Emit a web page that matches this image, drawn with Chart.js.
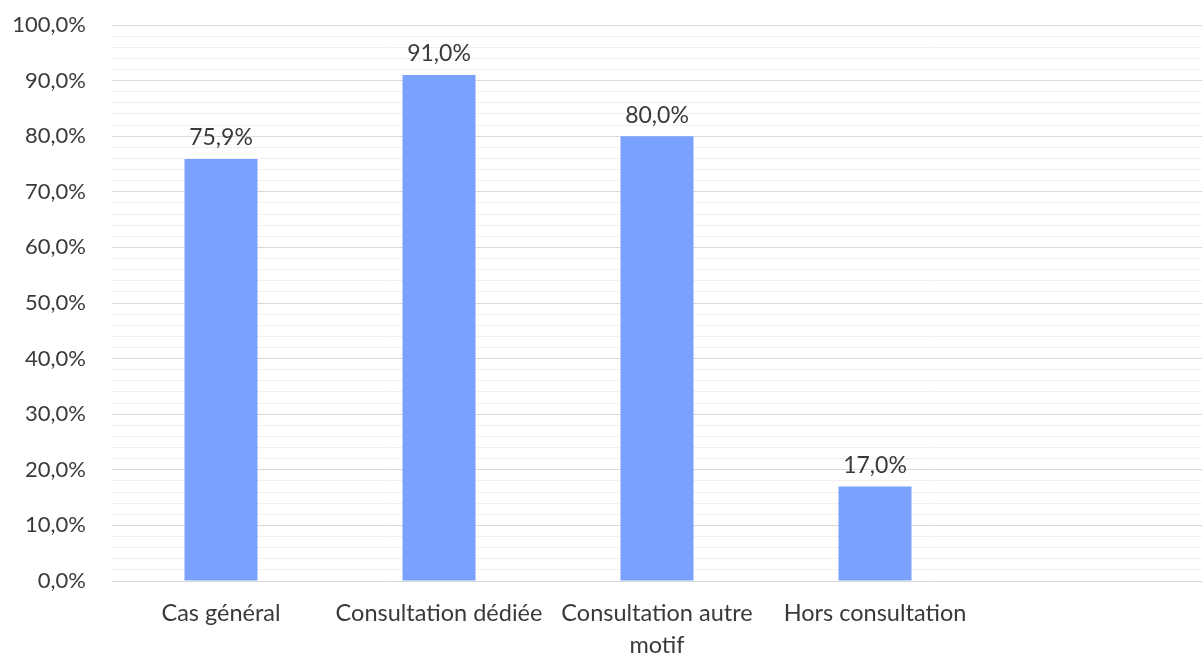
<!DOCTYPE html>
<html>
<head>
<meta charset="utf-8">
<script src="https://cdn.jsdelivr.net/npm/chart.js@4"></script>
<style>
  body { margin: 0; background: #fff; }
  #wrap { width: 1203px; height: 654px; }
</style>
</head>
<body>
<div id="wrap"><canvas id="barChart"></canvas></div>
<script>
const categories = ["Cas général", "Consultation dédiée", ["Consultation autre", "motif"], "Hors consultation", ""];
const values = [75.9, 91.0, 80.0, 17.0, null];
const tickLabelsEvery = 10;

const fmt = (v) => v.toFixed(1).replace(".", ",") + "%";

// etiquettes au-dessus des barres
const valueLabels = {
  id: "valueLabels",
  afterDatasetsDraw(chart) {
    const ctx = chart.ctx;
    const meta = chart.getDatasetMeta(0);
    ctx.save();
    ctx.font = "23px Lato";
    ctx.fillStyle = "#3a3a3a";
    ctx.textAlign = "center";
    ctx.textBaseline = "middle";
    meta.data.forEach((bar, i) => {
      if (values[i] == null) return;
      ctx.fillText(fmt(values[i]), bar.x, bar.y - 21);
    });
    ctx.restore();
  }
};

const dataBar = {
  labels: categories,
  datasets: [{
    data: values,
    backgroundColor: "#7ba1ff",
    barPercentage: 0.67,
    categoryPercentage: 0.5,
  }],
};

const configBar = {
  type: "bar",
  data: dataBar,
  plugins: [valueLabels],
  options: {
    responsive: true,
    maintainAspectRatio: false,
    animation: false,
    layout: { padding: { left: 12, top: 25, right: 1, bottom: 0 } },
    plugins: { legend: { display: false }, tooltip: { enabled: false } },
    scales: {
      x: {
        grid: { display: false, drawTicks: false },
        border: { display: false },
        afterFit: (scale) => { scale.height = 73; },
        ticks: {
          color: "#3a3a3a",
          font: { family: "Lato", size: 23.5, lineHeight: 1.36 },
          maxRotation: 0,
          autoSkip: false,
          padding: 16,
        },
      },
      y: {
        min: 0,
        max: 100,
        border: { display: false },
        afterFit: (scale) => {
          scale.width = 100;
          scale.paddingTop = 0;
          scale.paddingBottom = 0;
        },
        grid: {
          drawTicks: false,
          color: (c) => (c.tick.value % tickLabelsEvery === 0 ? "#d9d9d9" : "#efefef"),
          lineWidth: 1,
        },
        ticks: {
          stepSize: 2,
          autoSkip: false,
          padding: 26,
          color: "#3a3a3a",
          font: { family: "Lato", size: 22 },
          callback: (v) => (v % tickLabelsEvery === 0 ? fmt(v) : ""),
        },
      },
    },
  },
};

const barChart = new Chart(document.getElementById("barChart"), configBar);
</script>
</body>
</html>
